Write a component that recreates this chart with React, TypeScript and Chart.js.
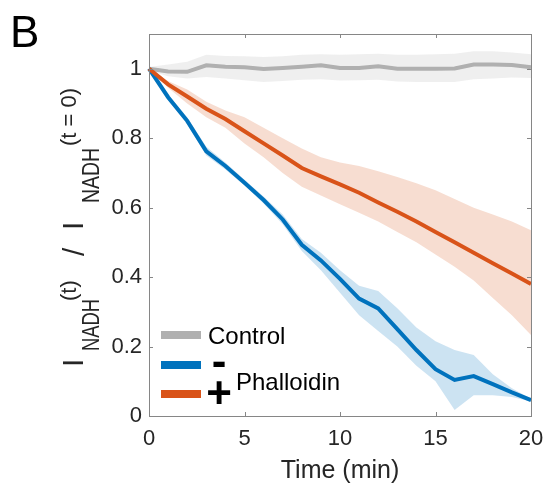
import React, { useEffect, useRef } from "react";
import { Chart, registerables } from "chart.js";
Chart.register(...registerables);

const time = [0, 1, 2, 3, 4, 5, 6, 7, 8, 9, 10, 11, 12, 13, 14, 15, 16, 17, 18, 19, 20];

const control = [1.0, 0.992, 0.991, 1.01, 1.006, 1.004, 0.999, 1.002, 1.006, 1.01, 1.002, 1.002, 1.007, 1.0, 1.0, 1.0, 1.001, 1.012, 1.012, 1.011, 1.004];
const controlUpper = [1.005, 1.012, 1.02, 1.04, 1.037, 1.036, 1.034, 1.036, 1.04, 1.042, 1.04, 1.042, 1.043, 1.04, 1.04, 1.042, 1.043, 1.05, 1.05, 1.047, 1.042];
const controlLower = [0.995, 0.978, 0.972, 0.976, 0.972, 0.967, 0.962, 0.965, 0.968, 0.97, 0.966, 0.967, 0.968, 0.963, 0.962, 0.962, 0.962, 0.97, 0.972, 0.975, 0.973];

const minus = [1.0, 0.918, 0.85, 0.762, 0.72, 0.672, 0.622, 0.566, 0.493, 0.448, 0.395, 0.338, 0.31, 0.25, 0.19, 0.135, 0.104, 0.115, 0.092, 0.068, 0.046];
const minusUpper = [1.0, 0.925, 0.86, 0.775, 0.73, 0.68, 0.632, 0.58, 0.51, 0.47, 0.42, 0.375, 0.36, 0.31, 0.255, 0.215, 0.19, 0.176, 0.12, 0.08, 0.05];
const minusLower = [1.0, 0.91, 0.84, 0.75, 0.71, 0.664, 0.612, 0.552, 0.475, 0.42, 0.355, 0.29, 0.245, 0.2, 0.145, 0.1, 0.017, 0.06, 0.06, 0.055, 0.042];

const plus = [1.0, 0.955, 0.92, 0.885, 0.855, 0.82, 0.785, 0.75, 0.714, 0.69, 0.667, 0.643, 0.615, 0.588, 0.56, 0.53, 0.5, 0.47, 0.44, 0.41, 0.38];
const plusUpper = [1.0, 0.965, 0.94, 0.905, 0.88, 0.86, 0.83, 0.8, 0.77, 0.745, 0.73, 0.72, 0.705, 0.688, 0.67, 0.65, 0.625, 0.6, 0.58, 0.56, 0.535];
const plusLower = [1.0, 0.945, 0.9, 0.86, 0.83, 0.785, 0.745, 0.7, 0.66, 0.635, 0.61, 0.585, 0.56, 0.53, 0.5, 0.465, 0.43, 0.39, 0.34, 0.29, 0.233];

const xTicks = [0, 5, 10, 15, 20];
const yTicks = [0, 0.2, 0.4, 0.6, 0.8, 1];

const FONT = '"Liberation Sans", Arial, Helvetica, sans-serif';
const GRAY = "#b0b0b0";
const BLUE = "#0072bd";
const ORANGE = "#d95319";
const AXIS = "#868686";
const TEXT = "#262626";

// y-axis title pieces: text, font size, offset along text, baseline, fitted width (0 = natural)
const yTitle: [string, number, number, number, number][] = [
  ["I", 30, 0, 83, 0],
  ["NADH", 24, 16, 99, 52],
  ["(t)", 22, 66, 76, 0],
  ["/", 30, 111, 84, 0],
  ["I", 30, 137, 83, 0],
  ["NADH", 24, 164, 99, 55],
  ["(t = 0)", 22, 221, 76, 58],
];

const overlay = {
  id: "overlay",
  afterDraw(chart: any) {
    const ctx = chart.ctx as CanvasRenderingContext2D;
    const a = chart.chartArea;
    const xs = chart.scales.x;
    const ys = chart.scales.y;
    ctx.save();
    ctx.strokeStyle = AXIS;
    ctx.lineWidth = 1;
    ctx.strokeRect(Math.round(a.left) + 0.5, Math.round(a.top) + 0.5, Math.round(a.right - a.left), Math.round(a.bottom - a.top));
    const tl = 4;
    ctx.beginPath();
    xTicks.forEach((v) => {
      const px = Math.round(xs.getPixelForValue(v)) + 0.5;
      ctx.moveTo(px, a.bottom);
      ctx.lineTo(px, a.bottom - tl);
      ctx.moveTo(px, a.top);
      ctx.lineTo(px, a.top + tl);
    });
    yTicks.forEach((v) => {
      const py = Math.round(ys.getPixelForValue(v)) + 0.5;
      ctx.moveTo(a.left, py);
      ctx.lineTo(a.left + tl, py);
      ctx.moveTo(a.right, py);
      ctx.lineTo(a.right - tl, py);
    });
    ctx.stroke();

    ctx.fillStyle = "#000";
    ctx.font = `44px ${FONT}`;
    ctx.textAlign = "left";
    ctx.textBaseline = "alphabetic";
    ctx.fillText("B", 10, 47);

    ctx.fillStyle = TEXT;
    ctx.font = `25px ${FONT}`;
    ctx.textAlign = "center";
    ctx.fillText("Time (min)", (a.left + a.right) / 2, 478);

    ctx.save();
    ctx.translate(0, 367);
    ctx.rotate(-Math.PI / 2);
    ctx.textAlign = "left";
    yTitle.forEach(([txt, size, u, v, w]) => {
      ctx.font = `${size}px ${FONT}`;
      const nat = ctx.measureText(txt).width;
      ctx.save();
      ctx.translate(u, v);
      if (w > 0) ctx.scale(w / nat, 1);
      ctx.fillText(txt, 0, 0);
      ctx.restore();
    });
    ctx.restore();

    const lx0 = 161, lx1 = 201;
    ctx.lineWidth = 8;
    ctx.lineCap = "butt";
    [[GRAY, 335], [BLUE, 365], [ORANGE, 394]].forEach(([c, y]) => {
      ctx.strokeStyle = c as string;
      ctx.beginPath();
      ctx.moveTo(lx0, y as number);
      ctx.lineTo(lx1, y as number);
      ctx.stroke();
    });
    ctx.fillStyle = "#000";
    ctx.font = `24px ${FONT}`;
    ctx.textAlign = "left";
    ctx.textBaseline = "alphabetic";
    ctx.fillText("Control", 208, 344);
    ctx.fillText("Phalloidin", 236, 390);
    ctx.font = `bold 44px ${FONT}`;
    ctx.textAlign = "center";
    ctx.textBaseline = "middle";
    ctx.fillText("-", 219, 364);
    ctx.fillText("+", 219, 396);
    ctx.restore();
  },
};

export default function App() {
  const ref = useRef<HTMLCanvasElement>(null);
  useEffect(() => {
    document.body.style.margin = "0";
    const pts = (arr: number[]) => time.map((t, i) => ({ x: t, y: arr[i] }));
    const bandPair = (upper: number[], lower: number[], color: string, order: number) => [
      { data: pts(upper), borderWidth: 0, pointRadius: 0, fill: "+1", backgroundColor: color, borderColor: "rgba(0,0,0,0)", tension: 0, order },
      { data: pts(lower), borderWidth: 0, pointRadius: 0, fill: false, borderColor: "rgba(0,0,0,0)", tension: 0, order },
    ];
    const line = (arr: number[], color: string, order: number) => ({
      data: pts(arr), borderColor: color, borderWidth: 4, pointRadius: 0, fill: false, tension: 0, order, clip: 4,
    });
    const chart = new Chart(ref.current!, {
      type: "line",
      data: {
        datasets: [
          ...bandPair(controlUpper, controlLower, "rgba(180,180,180,0.22)", 6),
          ...bandPair(minusUpper, minusLower, "rgba(0,114,189,0.2)", 5),
          ...bandPair(plusUpper, plusLower, "rgba(217,83,25,0.2)", 4),
          line(control, GRAY, 3),
          line(minus, BLUE, 2),
          line(plus, ORANGE, 1),
        ] as any,
      },
      options: {
        animation: false,
        responsive: true,
        maintainAspectRatio: false,
        layout: { padding: { top: 34, right: 14, left: 0, bottom: 0 } },
        plugins: { legend: { display: false }, tooltip: { enabled: false } },
        scales: {
          x: {
            type: "linear",
            min: 0,
            max: 20,
            afterBuildTicks: (s: any) => { s.ticks = xTicks.map((v) => ({ value: v })); },
            afterFit: (s: any) => { s.height = 71; s.paddingLeft = 0; s.paddingRight = 0; },
            ticks: { font: { size: 22, family: FONT }, color: TEXT, padding: 10, maxRotation: 0, callback: (v: any) => String(v) },
            grid: { display: false, drawTicks: false },
            border: { display: false },
          },
          y: {
            min: 0,
            max: 1.1,
            afterBuildTicks: (s: any) => { s.ticks = yTicks.map((v) => ({ value: v })); },
            afterFit: (s: any) => { s.width = 149; s.paddingTop = 0; s.paddingBottom = 0; },
            ticks: { font: { size: 22, family: FONT }, color: TEXT, padding: 7, callback: (v: any) => String(Math.round(v * 10) / 10) },
            grid: { display: false, drawTicks: false },
            border: { display: false },
          },
        },
      },
      plugins: [overlay],
    });
    return () => chart.destroy();
  }, []);
  return (
    <div style={{ width: 545, height: 487, position: "relative" }}>
      <canvas ref={ref} />
    </div>
  );
}
